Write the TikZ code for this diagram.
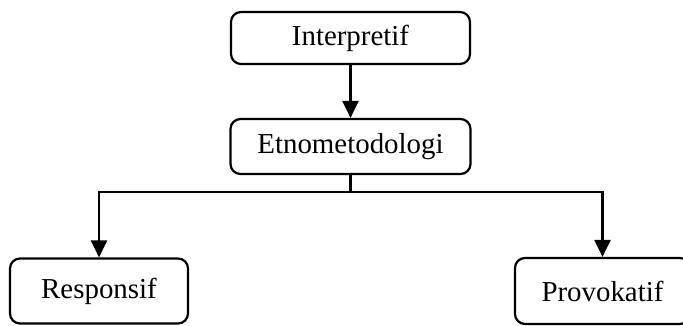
\documentclass[tikz,border=0pt]{standalone}
\usepackage{fontspec}
\setmainfont{Liberation Serif}
\usetikzlibrary{arrows.meta}
\begin{document}
\begin{tikzpicture}[x=1pt,y=-1pt,
  box/.style={draw,line width=2.2pt,rounded corners=10pt,inner sep=0pt,align=center,
    font=\fontsize{28.9}{34}\selectfont},
  conn/.style={line width=2.2pt,-{Triangle[length=17pt,width=16pt]}}]
\useasboundingbox (0,0) rectangle (683,326);
\clip (0,0) rectangle (683,326);
\node[box,minimum width=239pt,minimum height=52pt] (interp) at (350.5,38) {Interpretif};
\node[box,minimum width=240pt,minimum height=55pt] (etno) at (350.5,146.5) {Etnometodologi};
\node[box,minimum width=178pt,minimum height=65pt] (resp) at (99,291) {Responsif};
\node[box,minimum width=175pt,minimum height=66pt] (prov) at (602.5,291) {Provokatif};
\coordinate (split) at (350.5,192);
\draw[conn] (interp.south) -- (etno.north);
\draw[line width=2.2pt] (etno.south) -- (split);
\draw[conn] (split) -| (resp.north);
\draw[conn] (split) -| (prov.north);
\end{tikzpicture}
\end{document}
